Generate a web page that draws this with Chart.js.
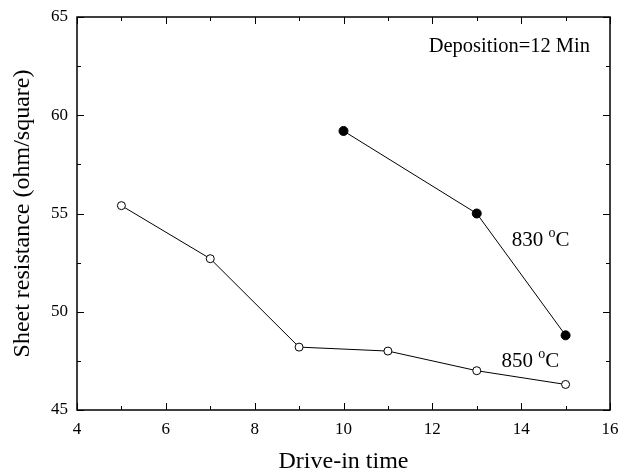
<!DOCTYPE html>
<html>
<head>
<meta charset="utf-8">
<script src="https://cdn.jsdelivr.net/npm/chart.js@4/dist/chart.umd.min.js"></script>
<style>
  html, body { margin: 0; padding: 0; background: #fff; }
  #wrap { width: 619px; height: 474px; }
</style>
</head>
<body>
<div id="wrap"><canvas id="chartCanvas" width="619" height="474"></canvas></div>
<script>
// data
const time850 = [5, 7, 9, 11, 13, 15];
const res850 = [55.4, 52.7, 48.2, 48.0, 47.0, 46.3];
const time830 = [10, 13, 15];
const res830 = [59.2, 55.0, 48.8];
const xTicks = [4, 6, 8, 10, 12, 14, 16];
const yTicks = [45, 50, 55, 60, 65];

const serif = "'Liberation Serif', 'Times New Roman', serif";

// box around the plot + inward ticks + text labels
const framePlugin = {
    id: 'frame',
    afterDraw(chart) {
        const { ctx, chartArea: a, scales: { x, y } } = chart;
        ctx.save();
        ctx.strokeStyle = '#000';
        ctx.lineWidth = 1;
        for (let v = 4; v <= 16; v += 1) {
            const px = Math.round(x.getPixelForValue(v)) + 0.5;
            const len = v % 2 === 0 ? 7 : 4;
            ctx.beginPath();
            ctx.moveTo(px, a.bottom); ctx.lineTo(px, a.bottom - len);
            ctx.moveTo(px, a.top); ctx.lineTo(px, a.top + len);
            ctx.stroke();
        }
        for (let v = 45; v <= 65; v += 2.5) {
            const py = Math.round(y.getPixelForValue(v)) + 0.5;
            const len = v % 5 === 0 ? 7 : 4;
            ctx.beginPath();
            ctx.moveTo(a.left, py); ctx.lineTo(a.left + len, py);
            ctx.moveTo(a.right, py); ctx.lineTo(a.right - len, py);
            ctx.stroke();
        }
        ctx.lineWidth = 1.5;
        ctx.strokeRect(a.left, a.top, a.right - a.left, a.bottom - a.top);

        ctx.fillStyle = '#000';
        ctx.textBaseline = 'alphabetic';
        ctx.font = '20.5px ' + serif;
        ctx.textAlign = 'right';
        ctx.fillText('Deposition=12 Min', x.getPixelForValue(15.55), y.getPixelForValue(63.21));

        ctx.textAlign = 'left';
        drawTemp(ctx, '830', x.getPixelForValue(13.79), y.getPixelForValue(53.33));
        drawTemp(ctx, '850', x.getPixelForValue(13.56), y.getPixelForValue(47.21));
        ctx.restore();
    }
};

function drawTemp(ctx, t, px, py) {
    ctx.font = '21px ' + serif;
    ctx.fillText(t + ' ', px, py);
    let w = ctx.measureText(t + ' ').width;
    ctx.font = '14px ' + serif;
    ctx.fillText('o', px + w, py - 9);
    w += ctx.measureText('o').width;
    ctx.font = '21px ' + serif;
    ctx.fillText('C', px + w, py);
}

const ctx = document.getElementById('chartCanvas').getContext('2d');
new Chart(ctx, {
    type: 'scatter',
    data: {
        datasets: [
            {
                label: '850 °C',
                data: time850.map((t, i) => ({ x: t, y: res850[i] })),
                showLine: true,
                borderColor: '#000',
                borderWidth: 1,
                pointRadius: 4,
                pointBackgroundColor: '#fff',
                pointBorderColor: '#000',
                pointBorderWidth: 1
            },
            {
                label: '830 °C',
                data: time830.map((t, i) => ({ x: t, y: res830[i] })),
                showLine: true,
                borderColor: '#000',
                borderWidth: 1,
                pointRadius: 4.5,
                pointBackgroundColor: '#000',
                pointBorderColor: '#000',
                pointBorderWidth: 1
            }
        ]
    },
    options: {
        responsive: false,
        animation: false,
        layout: { padding: { top: 17, right: 9, left: 0, bottom: 0 } },
        plugins: {
            legend: { display: false },
            tooltip: { enabled: false }
        },
        scales: {
            x: {
                type: 'linear',
                min: 4, max: 16,
                afterBuildTicks: s => { s.ticks = xTicks.map(v => ({ value: v })); },
                afterFit: s => { s.height = 64; s.paddingRight = 0; s.paddingLeft = 0; },
                grid: { display: false, drawTicks: false },
                border: { display: false },
                ticks: { color: '#000', padding: 9, font: { family: serif, size: 17 } },
                title: { display: true, text: 'Drive-in time', color: '#000', padding: { top: 0, bottom: 0 }, font: { family: serif, size: 24, lineHeight: 1 } }
            },
            y: {
                min: 45, max: 65,
                afterBuildTicks: s => { s.ticks = yTicks.map(v => ({ value: v })); },
                afterFit: s => { s.width = 77; s.paddingTop = 0; s.paddingBottom = 0; },
                grid: { display: false, drawTicks: false },
                border: { display: false },
                ticks: { color: '#000', padding: 9, font: { family: serif, size: 17 } },
                title: { display: true, text: 'Sheet resistance (ohm/square)', color: '#000', padding: { top: 11, bottom: 0 }, font: { family: serif, size: 24, lineHeight: 1 } }
            }
        }
    },
    plugins: [framePlugin]
});
</script>
</body>
</html>
